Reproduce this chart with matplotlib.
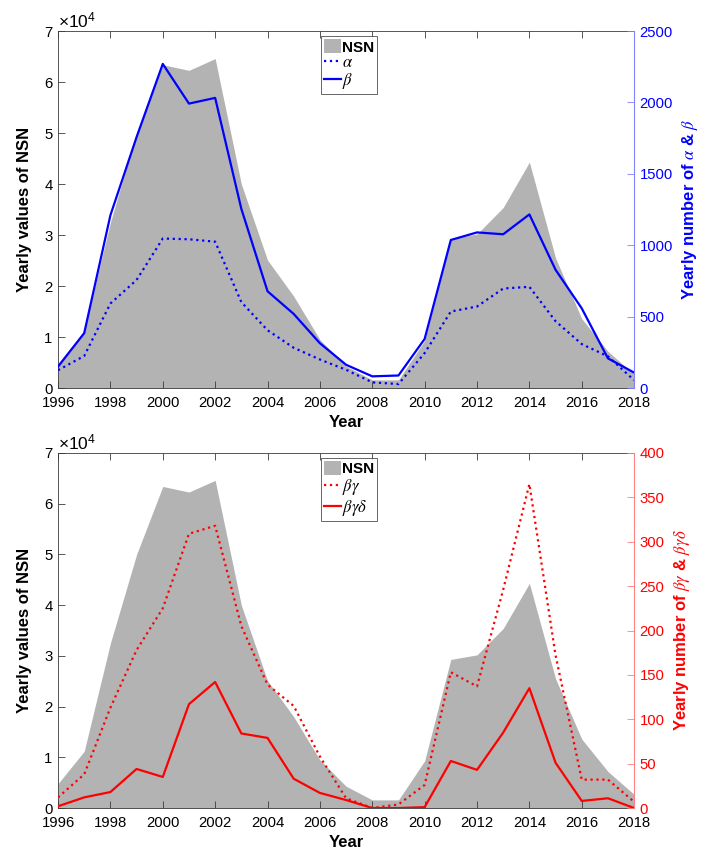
import matplotlib
matplotlib.use("Agg")
import matplotlib.pyplot as plt
from matplotlib.patches import Patch
from matplotlib.lines import Line2D
from matplotlib.ticker import FuncFormatter, MultipleLocator

plt.rcParams['font.family'] = ['Liberation Sans', 'DejaVu Sans']
plt.rcParams['mathtext.fontset'] = 'stix'

years = list(range(1996, 2019))
nsn = [4800, 11200, 32500, 50000, 63400, 62300, 64600, 40000, 25100, 18000, 9500,
       4300, 1600, 1600, 9300, 29300, 30200, 35400, 44300, 25500, 13600, 7200, 2700]
alpha = [125, 225, 592, 757, 1047, 1042, 1025, 602, 405, 282, 200, 128, 40, 28,
         245, 536, 571, 697, 709, 468, 308, 222, 55]
beta = [150, 385, 1210, 1758, 2270, 1992, 2032, 1255, 678, 519, 314, 163, 82, 88,
        344, 1037, 1090, 1077, 1216, 828, 558, 208, 108]
beta_gamma = [12, 38, 113, 178, 225, 309, 318, 205, 139, 115, 58, 11, 0, 4, 26,
              153, 137, 246, 365, 172, 32, 32, 7]
beta_gamma_delta = [2, 12, 18, 44, 35, 117, 142, 84, 79, 33, 17, 9, 0, 0, 1, 53,
                    43, 85, 135, 51, 8, 11, 0]

xticks = list(range(1996, 2019, 2))

FS = 10.7
LFS = 12
GRAY = '#b3b3b3'
AXC = '#3a3a3a'

fig = plt.figure(figsize=(7.06, 8.51), dpi=100)


def panel(rect, s1, s2, color, spine_color, rmax, rstep, lab1, lab2, rlabel):
    ax = fig.add_axes(rect)
    ax.fill_between(years, 0, nsn, color=GRAY, linewidth=0, zorder=1)
    ax.set_xlim(1996, 2018)
    ax.set_ylim(0, 70000)
    ax.set_xticks(xticks)
    ax.yaxis.set_major_locator(MultipleLocator(10000))
    ax.yaxis.set_major_formatter(FuncFormatter(lambda v, p: f'{v/1e4:g}'))
    ax.tick_params(axis='both', direction='in', length=5, width=0.6, color=AXC,
                   labelsize=FS, top=True, right=False)
    ax.tick_params(axis='x', pad=6)
    ax.tick_params(axis='y', pad=4)
    for s in ['left', 'bottom', 'top']:
        ax.spines[s].set_color(AXC)
        ax.spines[s].set_linewidth(0.6)
    ax.spines['right'].set_visible(False)
    ax.text(0.0, 1.002, r'$\mathregular{\times10^4}$', transform=ax.transAxes,
            ha='left', va='bottom', fontsize=12.5)
    ax.set_ylabel('Yearly values of NSN', fontsize=LFS, fontweight='bold', labelpad=9)
    ax.set_xlabel('Year', fontsize=LFS, fontweight='bold', labelpad=3)

    ax2 = ax.twinx()
    ax2.plot(years, s1, color=color, linestyle=':', linewidth=1.6, zorder=3)
    ax2.plot(years, s2, color=color, linestyle='-', linewidth=1.6, zorder=3)
    ax2.set_ylim(0, rmax)
    ax2.yaxis.set_major_locator(MultipleLocator(rstep))
    ax2.tick_params(axis='y', direction='in', length=5, width=0.6, color=spine_color,
                    labelcolor=color, labelsize=FS, pad=4)
    for s in ['left', 'bottom', 'top']:
        ax2.spines[s].set_visible(False)
    ax2.spines['right'].set_color(spine_color)
    ax2.spines['right'].set_linewidth(0.8)
    ax2.set_ylabel(rlabel, fontsize=LFS, fontweight='bold', color=color, labelpad=5)

    handles = [Patch(facecolor=GRAY, edgecolor='none'),
               Line2D([], [], color=color, linestyle=':', linewidth=1.6),
               Line2D([], [], color=color, linestyle='-', linewidth=1.6)]
    leg = ax2.legend(handles, ['NSN', lab1, lab2], loc='upper center',
                     bbox_to_anchor=(0.505, 0.985), fontsize=11, frameon=True,
                     fancybox=False, edgecolor='#404040', handlelength=1.1,
                     handleheight=1.0, handletextpad=0.1, borderpad=0.2,
                     labelspacing=0.05, borderaxespad=0.0)
    leg.get_frame().set_linewidth(0.7)
    leg.get_texts()[0].set_fontweight('bold')
    for t in leg.get_texts()[1:]:
        t.set_fontsize(12)
    return ax, ax2


panel([0.0822, 0.544, 0.816, 0.4195], alpha, beta, '#0000ff', '#8080ff', 2500, 500,
      r'$\alpha$', r'$\beta$', r'Yearly number of $\alpha$ & $\beta$')
panel([0.0822, 0.0505, 0.816, 0.4172], beta_gamma, beta_gamma_delta, '#ff0000', '#ff8080',
      400, 50, r'$\beta\gamma$', r'$\beta\gamma\delta$',
      r'Yearly number of $\beta\gamma$ & $\beta\gamma\delta$')

fig.savefig('out.png', dpi=100)
